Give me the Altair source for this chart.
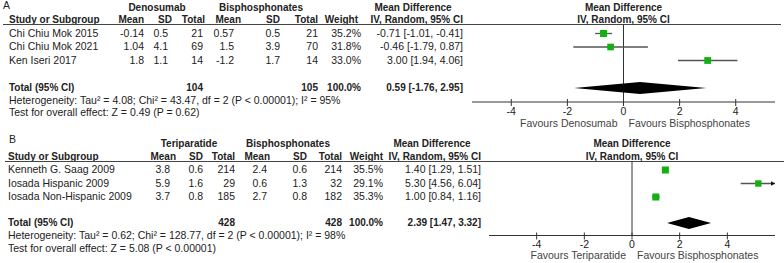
import altair as alt
import pandas as pd

# ---------------- Panel A data ----------------
A_studies = ["Chi Chiu Mok 2015", "Chi Chiu Mok 2021", "Ken Iseri 2017"]
A_exp_mean = [-0.14, 1.04, 1.8]
A_exp_sd = [0.5, 4.1, 1.1]
A_exp_n = [21, 69, 14]
A_ctl_mean = [0.57, 1.5, -1.2]
A_ctl_sd = [0.5, 3.9, 1.7]
A_ctl_n = [21, 70, 14]
A_weight = [35.2, 31.8, 33.0]
A_md = [-0.71, -0.46, 3.00]
A_lo = [-1.01, -1.79, 1.94]
A_hi = [-0.41, 0.87, 4.06]
A_tot_n = [104, 105]
A_tot_md = [0.59, -1.76, 2.95]
A_groups = ["Denosumab", "Bisphosphonates"]
A_favours = ["Favours Denosumab", "Favours Bisphosphonates"]
A_het = "Heterogeneity: Tau² = 4.08; Chi² = 43.47, df = 2 (P < 0.00001); I² = 95%"
A_test = "Test for overall effect: Z = 0.49 (P = 0.62)"

# ---------------- Panel B data ----------------
B_studies = ["Kenneth G. Saag 2009", "Iosada  Hispanic 2009", "Iosada  Non-Hispanic 2009"]
B_exp_mean = [3.8, 5.9, 3.7]
B_exp_sd = [0.6, 1.6, 0.8]
B_exp_n = [214, 29, 185]
B_ctl_mean = [2.4, 0.6, 2.7]
B_ctl_sd = [0.6, 1.3, 0.8]
B_ctl_n = [214, 32, 182]
B_weight = [35.5, 29.1, 35.3]
B_md = [1.40, 5.30, 1.00]
B_lo = [1.29, 4.56, 0.84]
B_hi = [1.51, 6.04, 1.16]
B_tot_n = [428, 428]
B_tot_md = [2.39, 1.47, 3.32]
B_groups = ["Teriparatide", "Bisphosphonates"]
B_favours = ["Favours Teriparatide", "Favours Bisphosphonates"]
B_het = "Heterogeneity: Tau² = 0.62; Chi² = 128.77, df = 2 (P < 0.00001); I² = 98%"
B_test = "Test for overall effect: Z = 5.08 (P < 0.00001)"

sub_headers = ["Mean", "SD", "Total", "Mean", "SD", "Total", "Weight", "IV, Random, 95% CI"]
tick_values = [-4, -2, 0, 2, 4]

# ---------------- layout ----------------
FONT = "Liberation Sans"
FS = 10.5
FSB = 10
TXT = "#222222"

LAY_A = dict(label="A", label_x=3, label_y=5.5, group_y=7.5, sub_y=20, line_y=24.5, line_x=[3, 781],
             rows_y=[33.5, 47, 60.5], total_y=88, het_y=101, test_y=113, study_x=9,
             hdr_x=[144, 172, 205, 241, 280, 318, 358, 463],
             dat_x=[144, 168, 203, 234, 280, 318, 361, 463],
             g_x=[157, 261], md_x=413,
             dom=[-5.4, 5.4], rng=[472, 775], axis_y=102, tick_y=111.5, fav_y=124)
LAY_B = dict(label="B", label_x=9, label_y=140, group_y=144, sub_y=157, line_y=161.5, line_x=[5, 784],
             rows_y=[170, 183.5, 197], total_y=223, het_y=236, test_y=249, study_x=8,
             hdr_x=[176, 203, 235, 270, 307, 342, 383, 481],
             dat_x=[170, 203, 235, 267, 307, 342, 383, 481],
             g_x=[189, 288], md_x=432,
             dom=[-6, 6], rng=[489, 775], axis_y=235.5, tick_y=245, fav_y=256)

X_PX = alt.Scale(domain=[0, 784], range=[0, 784], nice=False, zero=False)
Y_SC = alt.Scale(domain=[0, 263], range=[0, 263], nice=False, zero=False)


def fmt_ci(m, l, h):
    return f"{m:.2f} [{l:.2f}, {h:.2f}]"


def text_layer(df, align, bold):
    return alt.Chart(df).mark_text(
        align=align, baseline="middle", font=FONT,
        fontSize=FSB if bold else FS,
        fontWeight="bold" if bold else "normal", color=TXT,
    ).encode(
        x=alt.X("x:Q", scale=X_PX, axis=None),
        y=alt.Y("y:Q", scale=Y_SC, axis=None),
        text="t:N",
    )


def panel(L, studies, em, esd, en, cm, csd, cn, w, md, lo, hi, tot_n, tot_md, groups, fav, het, test):
    rows = []  # (t, x, y, al, bold)
    rows.append((L["label"], L["label_x"], L["label_y"], "left", False))
    rows.append((groups[0], L["g_x"][0], L["group_y"], "center", True))
    rows.append((groups[1], L["g_x"][1], L["group_y"], "center", True))
    rows.append(("Mean Difference", L["md_x"], L["group_y"], "center", True))
    rows.append(("Study or Subgroup", L["study_x"], L["sub_y"], "left", True))
    for h, x in zip(sub_headers, L["hdr_x"]):
        rows.append((h, x, L["sub_y"], "right", True))
    for i, s in enumerate(studies):
        y = L["rows_y"][i]
        vals = [str(em[i]), str(esd[i]), str(en[i]), str(cm[i]), str(csd[i]), str(cn[i]),
                f"{w[i]:.1f}%", fmt_ci(md[i], lo[i], hi[i])]
        rows.append((s, L["study_x"], y, "left", False))
        for v, x in zip(vals, L["dat_x"]):
            rows.append((v, x, y, "right", False))
    ty = L["total_y"]
    rows.append(("Total (95% CI)", L["study_x"], ty, "left", True))
    rows.append((str(tot_n[0]), L["dat_x"][2], ty, "right", True))
    rows.append((str(tot_n[1]), L["dat_x"][5], ty, "right", True))
    rows.append(("100.0%", L["dat_x"][6], ty, "right", True))
    rows.append((fmt_ci(*tot_md), L["dat_x"][7], ty, "right", True))
    rows.append((het, L["study_x"], L["het_y"], "left", False))
    rows.append((test, L["study_x"], L["test_y"], "left", False))
    tdf = pd.DataFrame(rows, columns=["t", "x", "y", "al", "bold"])

    layers = []
    for al in ["left", "center", "right"]:
        for b in [False, True]:
            sub = tdf[(tdf["al"] == al) & (tdf["bold"] == b)]
            if len(sub):
                layers.append(text_layer(sub[["t", "x", "y"]].reset_index(drop=True), al, b))

    # header line
    layers.append(alt.Chart(pd.DataFrame({"a": [L["line_x"][0]], "b": [L["line_x"][1]], "y": [L["line_y"]]}))
                  .mark_rule(color="#444444", strokeWidth=1)
                  .encode(x=alt.X("a:Q", scale=X_PX, axis=None), x2="b:Q",
                          y=alt.Y("y:Q", scale=Y_SC, axis=None)))

    FX = alt.Scale(domain=L["dom"], range=L["rng"], nice=False, zero=False, clamp=True)

    # forest headers
    fh = pd.DataFrame({"v": [0, 0], "y": [L["group_y"], L["sub_y"]],
                       "t": ["Mean Difference", "IV, Random, 95% CI"]})
    layers.append(alt.Chart(fh).mark_text(align="center", baseline="middle", font=FONT, fontSize=FSB,
                                          fontWeight="bold", color=TXT)
                  .encode(x=alt.X("v:Q", scale=FX, axis=None), y=alt.Y("y:Q", scale=Y_SC, axis=None), text="t:N"))

    # zero line
    layers.append(alt.Chart(pd.DataFrame({"v": [0], "y1": [L["line_y"]], "y2": [L["axis_y"]]}))
                  .mark_rule(color="#333333", strokeWidth=1)
                  .encode(x=alt.X("v:Q", scale=FX, axis=None),
                          y=alt.Y("y1:Q", scale=Y_SC, axis=None), y2="y2:Q"))
    # axis line
    layers.append(alt.Chart(pd.DataFrame({"a": [L["dom"][0]], "b": [L["dom"][1]], "y": [L["axis_y"]]}))
                  .mark_rule(color="#333333", strokeWidth=1)
                  .encode(x=alt.X("a:Q", scale=FX, axis=None), x2="b:Q",
                          y=alt.Y("y:Q", scale=Y_SC, axis=None)))
    # ticks
    tk = pd.DataFrame({"v": tick_values, "y1": [L["axis_y"] - 3] * len(tick_values),
                       "y2": [L["axis_y"] + 4] * len(tick_values),
                       "yl": [L["tick_y"]] * len(tick_values),
                       "t": [str(v) for v in tick_values]})
    layers.append(alt.Chart(tk).mark_rule(color="#333333", strokeWidth=1)
                  .encode(x=alt.X("v:Q", scale=FX, axis=None),
                          y=alt.Y("y1:Q", scale=Y_SC, axis=None), y2="y2:Q"))
    layers.append(alt.Chart(tk).mark_text(align="center", baseline="middle", font=FONT, fontSize=FS, color=TXT)
                  .encode(x=alt.X("v:Q", scale=FX, axis=None),
                          y=alt.Y("yl:Q", scale=Y_SC, axis=None), text="t:N"))
    # favours
    fv = pd.DataFrame({"v": [0], "y": [L["fav_y"]], "l": [fav[0]], "r": [fav[1]]})
    layers.append(alt.Chart(fv).mark_text(align="right", baseline="middle", font=FONT, fontSize=FS,
                                          color="#444444", dx=-6)
                  .encode(x=alt.X("v:Q", scale=FX, axis=None),
                          y=alt.Y("y:Q", scale=Y_SC, axis=None), text="l:N"))
    layers.append(alt.Chart(fv).mark_text(align="left", baseline="middle", font=FONT, fontSize=FS,
                                          color="#444444", dx=5)
                  .encode(x=alt.X("v:Q", scale=FX, axis=None),
                          y=alt.Y("y:Q", scale=Y_SC, axis=None), text="r:N"))

    # study effects
    sd = pd.DataFrame({"md": md, "lo": lo, "hi": hi, "w": w, "y": L["rows_y"]})
    layers.append(alt.Chart(sd).mark_rule(color="#555555", strokeWidth=1.3)
                  .encode(x=alt.X("lo:Q", scale=FX, axis=None), x2="hi:Q",
                          y=alt.Y("y:Q", scale=Y_SC, axis=None)))
    layers.append(alt.Chart(sd).transform_filter(f"datum.hi > {L['dom'][1]}")
                  .mark_point(shape="triangle-right", filled=True, size=22, color="#111111",
                              opacity=1, xOffset=-2)
                  .encode(x=alt.X("hi:Q", scale=FX, axis=None),
                          y=alt.Y("y:Q", scale=Y_SC, axis=None)))
    layers.append(alt.Chart(sd).mark_square(filled=True, color="#12b012", opacity=1)
                  .encode(x=alt.X("md:Q", scale=FX, axis=None),
                          y=alt.Y("y:Q", scale=Y_SC, axis=None),
                          size=alt.Size("w:Q", scale=alt.Scale(domain=[0, 100], range=[0, 140]), legend=None)))
    # diamond
    half = 6
    dm = pd.DataFrame({"x": [tot_md[1], tot_md[0], tot_md[2]],
                       "y1": [L["total_y"], L["total_y"] - half, L["total_y"]],
                       "y2": [L["total_y"], L["total_y"] + half, L["total_y"]]})
    layers.append(alt.Chart(dm).mark_area(orient="vertical", color="#000000", opacity=1, interpolate="linear")
                  .encode(x=alt.X("x:Q", scale=FX, axis=None),
                          y=alt.Y("y1:Q", scale=Y_SC, axis=None), y2="y2:Q"))
    return layers


layers = panel(LAY_A, A_studies, A_exp_mean, A_exp_sd, A_exp_n, A_ctl_mean, A_ctl_sd, A_ctl_n,
               A_weight, A_md, A_lo, A_hi, A_tot_n, A_tot_md, A_groups, A_favours, A_het, A_test)
layers += panel(LAY_B, B_studies, B_exp_mean, B_exp_sd, B_exp_n, B_ctl_mean, B_ctl_sd, B_ctl_n,
                B_weight, B_md, B_lo, B_hi, B_tot_n, B_tot_md, B_groups, B_favours, B_het, B_test)

chart = alt.layer(*layers).resolve_scale(x="independent", y="shared", size="independent").properties(
    width=784, height=263, padding=0, autosize="none", background="white"
).configure_view(stroke=None)

chart.save("out.html", embed_options={"renderer": "svg", "actions": False})
